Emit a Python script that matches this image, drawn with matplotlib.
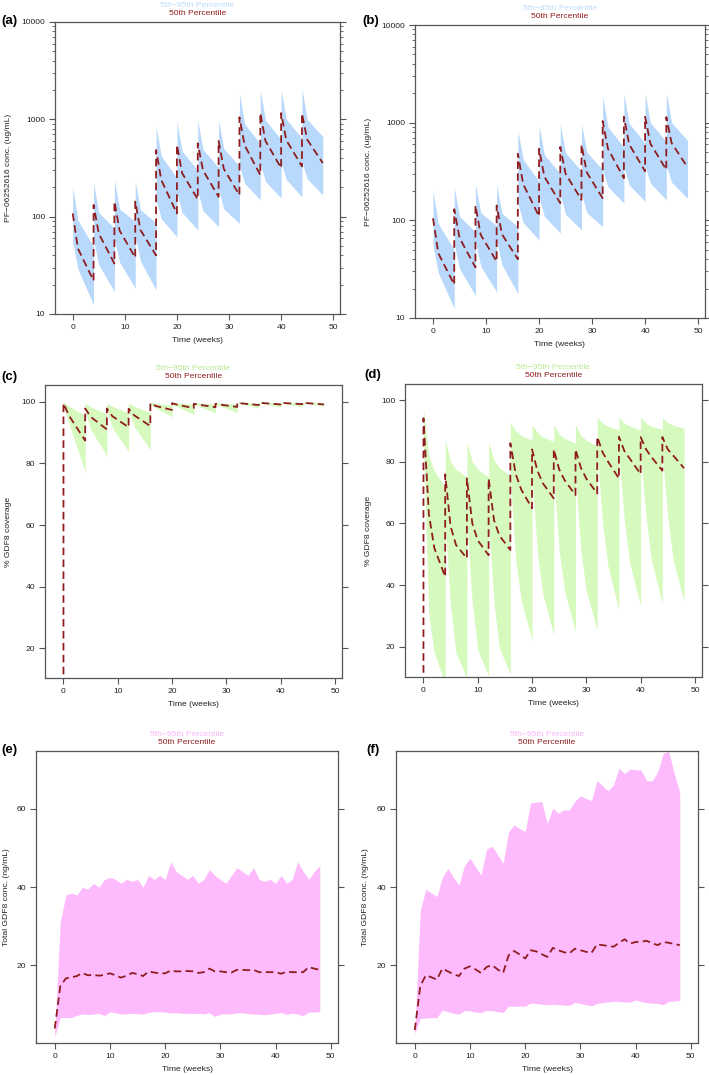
import matplotlib.pyplot as plt
import numpy as np
from matplotlib.ticker import LogLocator, NullFormatter

plt.rcParams['font.family'] = ['Liberation Sans', 'DejaVu Sans']

# dosing every 4 weeks, values read per interval at the offsets given
dose_times = [0, 4, 8, 12, 16, 20, 24, 28, 32, 36, 40, 44]
offs3 = [0, 1, 4]
offs4 = [0, 1, 2, 4]

# (a) PF-06252616 conc (ug/mL)
a_med = [[108, 47, 22], [132, 67, 33], [143, 72, 38], [143, 73, 40],
         [484, 238, 108], [546, 280, 151], [567, 300, 160], [600, 310, 167],
         [1050, 540, 268], [1160, 600, 316], [1160, 610, 329], [1150, 620, 355]]
a_hi = [[203, 92, 49], [220, 110, 76], [238, 120, 89], [230, 118, 86],
        [841, 420, 250], [946, 470, 300], [975, 490, 320], [975, 500, 330],
        [1855, 900, 560], [2000, 980, 620], [2010, 1000, 640], [2050, 1000, 664]]
a_lo = [[55, 29, 12.4], [57, 32, 17], [60, 34, 18.5], [62, 35, 17.6],
        [150, 95, 62], [175, 110, 73], [185, 115, 79], [190, 120, 85],
        [330, 220, 148], [350, 230, 155], [360, 240, 160], [365, 245, 167]]

# (b)
b_med = [[105, 46, 22], [130, 66, 33], [142, 71, 38], [142, 72, 40],
         [480, 235, 110], [540, 280, 150], [565, 300, 162], [595, 310, 168],
         [1040, 540, 270], [1150, 600, 318], [1150, 610, 330], [1140, 620, 350]]
b_hi = [[200, 92, 50], [218, 110, 76], [236, 120, 88], [230, 118, 86],
        [830, 420, 250], [940, 470, 300], [970, 490, 320], [970, 500, 330],
        [1850, 900, 560], [1990, 980, 620], [2000, 1000, 640], [2040, 1000, 660]]
b_lo = [[55, 29, 12.5], [57, 32, 17], [60, 34, 18.5], [62, 35, 17.8],
        [150, 95, 63], [175, 110, 74], [185, 115, 80], [190, 120, 86],
        [330, 220, 150], [350, 230, 156], [360, 240, 162], [365, 245, 168]]

# (c) % GDF8 coverage
c_med = [[99.5, 95.5, 87.4], [97.8, 95.1, 91.0], [97.8, 95.3, 91.7], [97.7, 95.6, 92.1],
         [99.5, 98.6, 97.3], [99.5, 99.0, 97.9], [99.3, 99.0, 98.2], [99.3, 99.0, 98.3],
         [99.7, 99.4, 98.9], [99.7, 99.5, 99.1], [99.7, 99.5, 99.2], [99.7, 99.5, 99.1]]
c_hi = [[99.8, 98.5, 95.5], [99.5, 98.3, 96.0], [99.5, 98.5, 96.3], [99.5, 98.5, 96.5],
        [99.8, 99.5, 98.8], [99.8, 99.6, 99.1], [99.8, 99.6, 99.2], [99.8, 99.6, 99.2],
        [99.9, 99.8, 99.5], [99.9, 99.8, 99.6], [99.9, 99.8, 99.6], [99.9, 99.8, 99.6]]
c_lo = [[98.5, 93.0, 77.3], [97.0, 91.0, 82.4], [97.0, 91.5, 83.8], [97.0, 92.0, 84.3],
        [99.0, 98.0, 95.1], [99.0, 98.3, 95.9], [99.0, 98.5, 96.4], [99.0, 98.5, 96.4],
        [99.5, 99.2, 97.9], [99.5, 99.3, 98.2], [99.5, 99.3, 98.3], [99.5, 99.3, 98.5]]

# (d)
d_med = [[94.1, 63, 52, 42.7], [75.9, 59, 53, 48.7], [74.6, 60, 54.5, 49.7], [74.6, 61, 56, 51.4],
         [86, 76, 71, 64.9], [84, 77, 73, 68.1], [84, 77.5, 74, 69.2], [84, 78, 74.5, 69.7],
         [88.1, 83, 80, 74.6], [88.1, 83.5, 81, 76], [88, 84, 81.5, 77.1], [88, 84, 82, 77.9]]
d_hi = [[97.3, 82, 77, 71.9], [87, 80, 77.5, 75], [86.3, 80, 77.5, 75], [86.3, 80.5, 78, 75.7],
        [92.6, 90, 88.5, 87], [92, 89.5, 88, 86.5], [92, 89, 87.5, 86], [92, 88.5, 87, 85],
        [94.4, 92.5, 91.5, 90.3], [94.4, 92.5, 91.5, 90.3], [94.4, 92.5, 91.5, 90.5], [94.4, 92.7, 91.8, 90.8]]
d_lo = [[85, 30, 18, 8], [60, 33, 18, 9.8], [60, 34, 19, 10.5], [60, 34, 19.5, 11],
        [75, 48, 35, 22.2], [75, 50, 37, 23.8], [75, 51, 38, 24.9], [75, 51, 38, 25.4],
        [82, 60, 46, 31.9], [82, 61, 47, 33.2], [82, 62, 48, 33.9], [82, 62, 48, 34.6]]

# (e),(f) total GDF8, weekly
weeks = list(range(49))
e_hi = [3, 31, 38, 38.5, 38, 40, 39.5, 41, 40, 42, 42.5, 42, 41, 42, 41.5, 42, 40, 43, 42, 43,
        42, 46.5, 44, 43, 42, 43, 41, 42, 44.5, 43, 42, 41, 43, 45, 44, 43, 45, 42, 41.5, 42,
        41, 43, 41, 42, 46.5, 44, 42, 44, 45.5]
e_med = [3.9, 14.7, 16.7, 17.0, 17.3, 18.1, 17.5, 17.6, 17.4, 17.6, 18.0, 17.5, 16.9, 17.4, 18.1,
         17.8, 17.3, 18.5, 18.2, 18.0, 18.0, 18.7, 18.5, 18.5, 18.6, 18.5, 18.1, 18.3, 19.2, 18.5,
         18.5, 18.3, 18.2, 18.9, 18.9, 18.8, 18.9, 18.3, 18.3, 18.3, 18.3, 17.9, 18.4, 18.3, 18.3,
         18.3, 19.6, 19.2, 18.9]
e_lo = [1.8, 6.7, 6.7, 6.7, 7.3, 7.6, 7.5, 7.6, 7.8, 7.2, 8.2, 7.9, 7.6, 7.7, 7.8, 7.7, 7.6, 8.0,
        8.2, 8.2, 8.1, 7.9, 7.9, 7.8, 7.8, 7.7, 7.8, 7.6, 7.9, 7.0, 7.6, 7.7, 7.6, 7.9, 7.9, 7.7,
        7.6, 7.5, 7.4, 7.6, 7.8, 8.0, 7.5, 7.8, 7.6, 7.2, 8.1, 8.1, 8.2]
f_hi = [3, 34, 39.5, 38.5, 37.6, 42.5, 44.8, 42.5, 40.6, 45.5, 47.4, 45.2, 43.1, 49.7, 50.5, 48.3,
        46.1, 54.2, 55.9, 55.0, 54.2, 61.6, 61.7, 61.9, 56.3, 60.2, 58.9, 59.8, 59.7, 62.0, 63.3,
        62.7, 62.1, 67.2, 66.0, 64.6, 66.1, 70.4, 69.0, 70.2, 70.0, 69.9, 67.2, 67.2, 69.5, 74.2,
        74.7, 69.0, 64.2]
f_med = [3.5, 14.8, 17.5, 17.0, 16.4, 19.2, 18.5, 17.8, 17.3, 19.2, 19.8, 19.0, 18.1, 19.6, 20.1,
         19.0, 18.1, 22.6, 23.7, 22.8, 21.8, 23.9, 23.6, 22.9, 22.2, 24.5, 23.9, 23.4, 23.1, 24.3,
         23.9, 23.5, 23.2, 25.4, 25.2, 25.0, 24.8, 25.8, 26.7, 25.6, 26.0, 26.1, 26.3, 25.7, 25.2,
         26.0, 25.8, 25.5, 25.2]
f_lo = [2.6, 6.5, 6.6, 6.7, 6.7, 8.6, 8.2, 7.8, 7.6, 8.5, 8.4, 8.1, 8.0, 8.5, 8.5, 8.2, 8.0, 9.6,
        9.6, 9.6, 9.6, 10.4, 10.3, 10.1, 10.0, 10.1, 10.0, 9.9, 9.8, 10.6, 10.3, 10.0, 9.7, 10.3,
        10.5, 10.7, 10.9, 10.8, 10.7, 10.6, 11.2, 10.8, 10.5, 10.4, 10.3, 10.0, 10.8, 10.9, 11.1]

W, H = 709, 1075
red = '#8f1d1f'
axcol = '#555555'
blue, green, pink = '#b8d9fb', '#d6fabd', '#fdbafd'
blue_t, green_t, pink_t = '#bcdcfc', '#b8ea90', '#fbb6fb'
fs = 6.1


def profile(vals, offs):
    t, y = [], []
    for d, v in zip(dose_times, vals):
        t += [d + o for o in offs]
        y += v
    return t, y


fig = plt.figure(figsize=(W / 100, H / 100), dpi=100)


def panel(l, t, r, b, lab, labxy, tb, lo, hi, tm, med, fill, legcol, ylabel, ylab_x, ylim,
          yticks, log=False):
    ax = fig.add_axes([l / W, 1 - b / H, (r - l) / W, (b - t) / H])
    ax.fill_between(tb, lo, hi, color=fill, lw=0)
    ax.plot(tm, med, color=red, lw=1.3, dashes=(4.2, 2.4))
    if log:
        ax.set_yscale('log')
        ax.yaxis.set_minor_locator(LogLocator(base=10, subs=np.arange(2, 10)))
        ax.yaxis.set_minor_formatter(NullFormatter())
    ax.set_ylim(*ylim)
    ax.set_xlim(-3.4, 51.3)
    ax.set_yticks(yticks, labels=[str(v) for v in yticks])
    ax.set_xticks([0, 10, 20, 30, 40, 50])
    for s in ax.spines.values():
        s.set_color(axcol)
        s.set_linewidth(0.9)
    ax.tick_params(direction='out', length=4, width=0.8, color=axcol, labelsize=fs,
                   labelcolor='#222222', pad=3, right=True, top=False)
    ax.tick_params(which='minor', length=2, width=0.6, right=True, top=False, color=axcol)
    ax.set_xlabel('Time (weeks)', fontsize=fs, color='#222222')
    ax.xaxis.set_label_coords(0.5, -23 / (b - t))
    ax.set_ylabel(ylabel, fontsize=fs, color='#222222')
    ax.yaxis.set_label_coords((ylab_x - l) / (r - l), 0.5)
    ax.annotate('5th\u221295th Percentile', (0.5, 1), xycoords='axes fraction',
                xytext=(0, 11.8), textcoords='offset points', ha='center', va='center',
                fontsize=fs, color=legcol)
    ax.annotate('50th Percentile', (0.5, 1), xycoords='axes fraction',
                xytext=(0, 5.8), textcoords='offset points', ha='center', va='center',
                fontsize=fs, color=red)
    fig.text(labxy[0] / W, 1 - labxy[1] / H, lab, fontsize=9.5, fontweight='bold',
             ha='center', va='center')
    return ax


pk_label = 'PF\u221206252616 conc. (ug/mL)'
tot_label = 'Total GDF8 conc. (ng/mL)'

ta, ya_m = profile(a_med, offs3)
_, ya_h = profile(a_hi, offs3)
_, ya_l = profile(a_lo, offs3)
panel(55, 22, 340, 314, '(a)', (9, 21), ta, ya_l, ya_h, ta, ya_m, blue, blue_t,
      pk_label, 12, (10, 10000), [10, 100, 1000, 10000], log=True)

tb_, yb_m = profile(b_med, offs3)
_, yb_h = profile(b_hi, offs3)
_, yb_l = profile(b_lo, offs3)
panel(415, 25, 705, 318, '(b)', (371, 21), tb_, yb_l, yb_h, tb_, yb_m, blue, blue_t,
      pk_label, 372, (10, 10000), [10, 100, 1000, 10000], log=True)

tc, yc_m = profile(c_med, offs3)
_, yc_h = profile(c_hi, offs3)
_, yc_l = profile(c_lo, offs3)
panel(45, 385, 342, 678, '(c)', (9, 377), tc, yc_l, yc_h, [0] + tc, [0] + yc_m, green,
      green_t, '% GDF8 coverage', 12, (10.4, 105.4), [20, 40, 60, 80, 100])

td, yd_m = profile(d_med, offs4)
_, yd_h = profile(d_hi, offs4)
_, yd_l = profile(d_lo, offs4)
panel(405, 384, 702, 677, '(d)', (373, 375), td, yd_l, yd_h, [0] + td, [0] + yd_m, green,
      green_t, '% GDF8 coverage', 372, (10.2, 105.2), [20, 40, 60, 80, 100])

panel(36, 751, 338, 1043, '(e)', (9, 750), weeks, e_lo, e_hi, weeks, e_med, pink, pink_t,
      tot_label, 10, (0.2, 74.8), [20, 40, 60])
panel(396, 751, 698, 1043, '(f)', (373, 750), weeks, f_lo, f_hi, weeks, f_med, pink, pink_t,
      tot_label, 369, (0.2, 74.8), [20, 40, 60])

plt.savefig('out.png', dpi=100)
